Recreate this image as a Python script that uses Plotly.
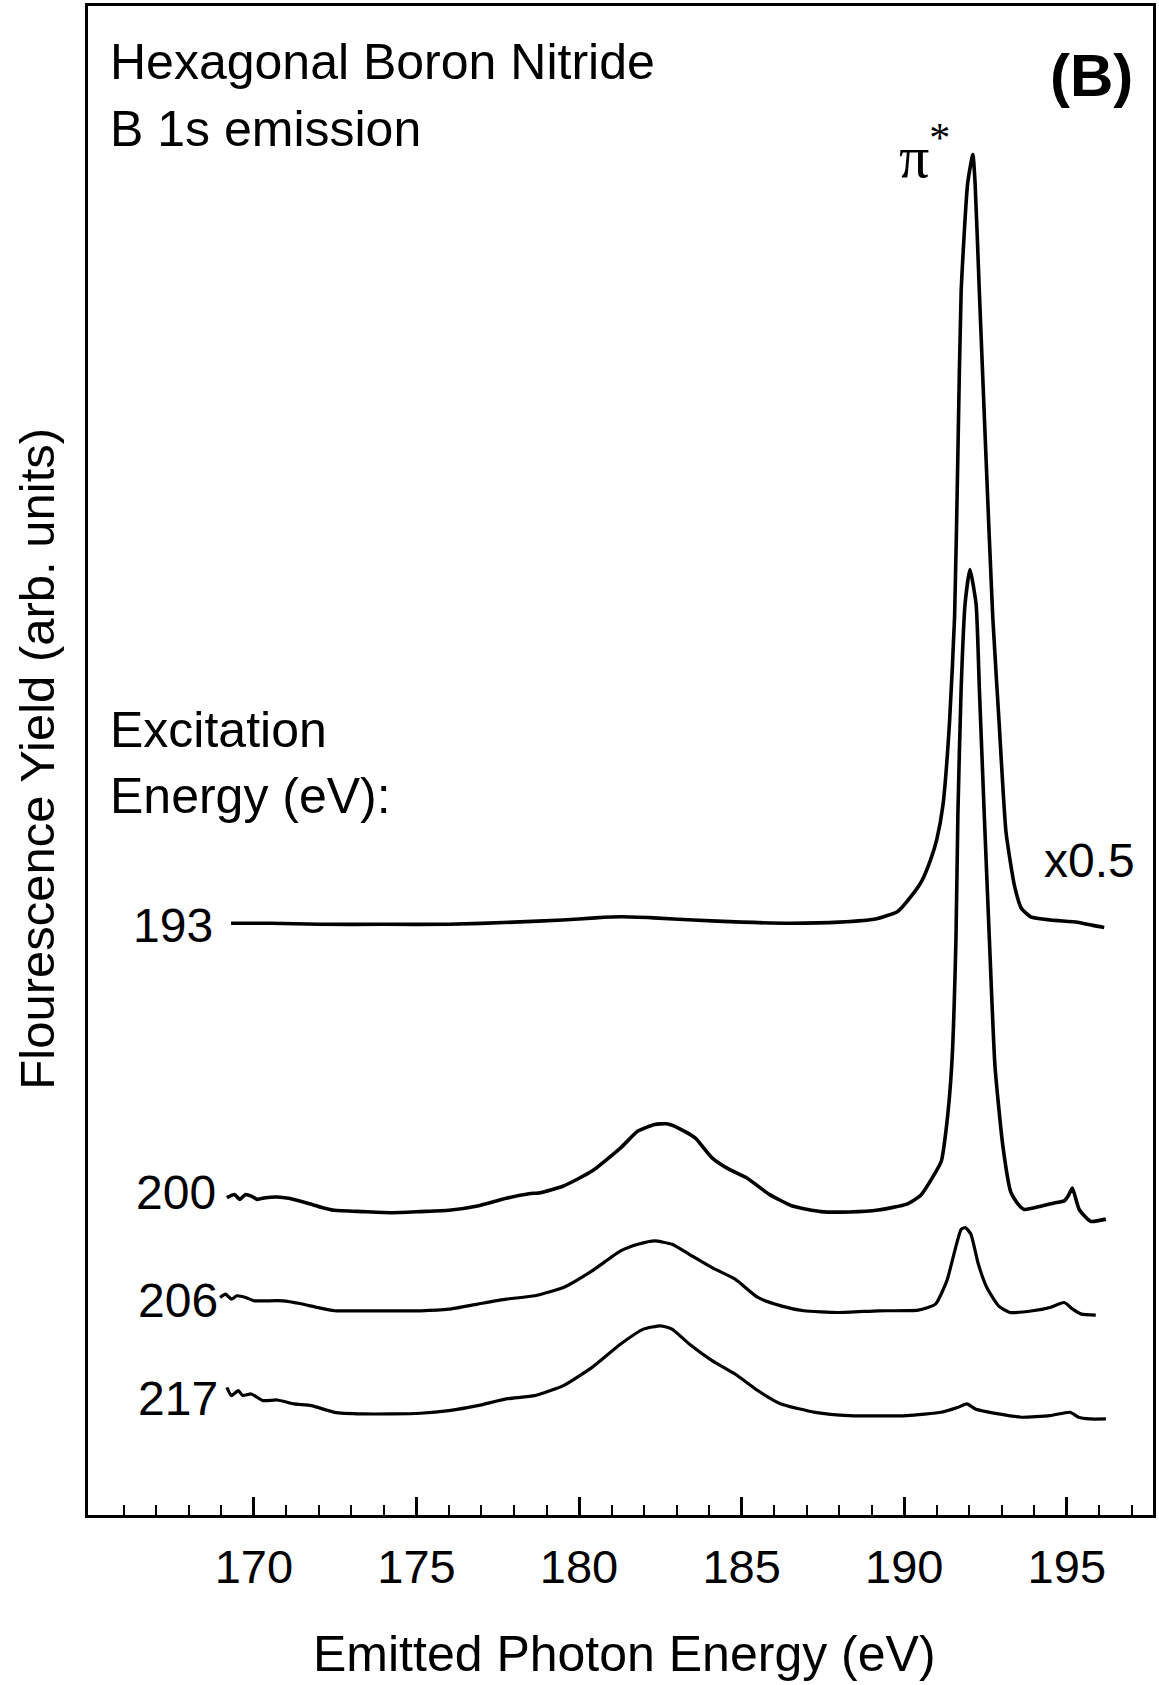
import plotly.graph_objects as go

# ---- data (emitted photon energy in eV, intensity in arbitrary units) ----
E193 = [169.3, 170.5, 172.0, 174.0, 176.0, 178.0, 179.5, 180.5, 181.3, 182.3, 183.5, 185.0,
        186.5, 188.0, 189.19, 189.8, 190.21, 190.55, 190.82, 191.0, 191.19, 191.39, 191.55,
        191.65, 191.75, 191.95, 192.11, 192.18, 192.31, 192.51, 192.72, 192.92, 193.13,
        193.39, 193.6, 193.89, 194.5, 195.33, 195.8, 196.15]
Y193 = [552, 552, 551, 551, 551, 553, 555, 557, 558, 557, 555, 553,
        552, 553, 556.5, 563, 577, 592, 612, 630, 662, 738, 839,
        990, 1141, 1242, 1269, 1242, 1141, 990, 839, 738, 637,
        587, 566, 558, 555, 553, 550, 548]

E200 = [169.17, 169.40, 169.57, 169.75, 169.92, 170.10, 170.36, 170.72, 171.07, 171.60,
        172.12, 172.48, 173.36, 174.24, 175.12, 176.0, 176.88, 177.76, 178.46, 178.81,
        179.52, 180.40, 181.28, 181.81, 182.33, 182.69, 183.04, 183.57, 184.09, 184.62,
        185.15, 185.85, 186.56, 187.44, 188.32, 189.20, 190.08, 190.5, 190.93, 191.14,
        191.29, 191.46, 191.59, 191.65, 191.75, 191.87, 192.02, 192.21, 192.31, 192.46,
        192.62, 192.79, 193.03, 193.28, 193.5, 193.69, 194.2, 194.61, 194.92, 195.05,
        195.17, 195.38, 195.73, 196.2]
Y200 = [296, 299, 294.4, 299, 297.5, 294.4, 296, 296.6, 295.4, 291.3,
        286.7, 284.2, 283, 282, 283, 284.2, 288.2, 295.4, 299.7, 300.6,
        306.9, 320.8, 342.5, 358.1, 364.3, 364.9, 361.2, 351.8, 333.2, 322.4,
        314.6, 299.1, 288.2, 283, 282.7, 284.5, 290, 298, 318, 330,
        360, 419, 536, 654, 771, 849.5, 882, 849.5, 771, 654,
        536, 419, 345, 301, 290, 285, 288, 291, 293, 298,
        305, 285, 274, 276]

E206 = [168.96, 169.13, 169.31, 169.48, 169.75, 170.01, 170.36, 170.89, 171.42, 171.95,
        172.48, 173.36, 174.24, 175.12, 176.0, 176.88, 177.76, 178.64, 179.52, 180.40,
        181.28, 181.81, 182.33, 182.86, 183.39, 184.09, 184.80, 185.50, 186.21, 186.91,
        187.97, 189.20, 190.43, 190.96, 191.31, 191.58, 191.75, 191.88, 192.05, 192.28,
        192.54, 192.9, 193.25, 193.95, 194.48, 194.92, 195.18, 195.45, 195.89]
Y206 = [202.9, 206.0, 201.3, 204.5, 202.9, 199.8, 199.8, 199.8, 197.3, 193.6,
        190.5, 190.5, 190.5, 190.5, 192.0, 196.7, 201.3, 204.5, 212.2, 227.7,
        246.3, 252.5, 255.7, 252.5, 243.2, 230.8, 220.0, 202.9, 195.1, 190.5,
        188.9, 190.5, 191.1, 196.7, 218.4, 249.4, 266.5, 268.1, 261.9, 233.9,
        212.2, 195.1, 188.9, 190.5, 193.6, 198.2, 192.0, 187.4, 186.5]

E217 = [169.17, 169.31, 169.52, 169.66, 169.92, 170.28, 170.72, 171.24, 171.77, 172.48,
        173.36, 174.24, 175.12, 176.0, 176.88, 177.76, 178.64, 179.52, 180.40, 181.28,
        181.98, 182.51, 182.86, 183.39, 184.09, 184.80, 185.50, 186.21, 187.26, 188.32,
        190.08, 191.14, 191.66, 191.93, 192.19, 192.90, 193.6, 194.48, 195.10, 195.36,
        195.71, 196.2]
Y217 = [119.1, 111.4, 116.0, 111.4, 112.9, 106.7, 107.3, 103.6, 102.0, 95.8,
        94.3, 94.3, 94.9, 97.4, 102.0, 108.3, 111.4, 120.7, 137.7, 159.5,
        173.4, 176.5, 173.4, 159.5, 144.0, 131.5, 116.0, 103.6, 95.8, 92.7,
        92.7, 95.8, 100.5, 103.6, 98.9, 94.3, 91.2, 92.7, 95.8, 91.2,
        89.6, 89.6]

EXCITATION_LABELS = ["193", "200", "206", "217"]
TICK_VALS = [170, 175, 180, 185, 190, 195]
TICK_TEXT = ["170", "175", "180", "185", "190", "195"]
MINOR_TICKS = [v for v in range(166, 198) if v % 5 != 0]

FONT = "Liberation Sans, Arial, Helvetica, sans-serif"
SERIF = "Liberation Serif, Times New Roman, serif"
W, H = 1159, 1685
L, R, T, B = 88, 3, 3, 170
PW, PH = W - L - R, H - T - B


def px(xf):
    return (xf - L) / PW


def py(yf):
    return (H - B - yf) / PH


fig = go.Figure()
for e, y, w in [(E193, Y193, 3.6), (E200, Y200, 3.6), (E206, Y206, 3.2), (E217, Y217, 3.2)]:
    fig.add_trace(go.Scatter(x=e, y=y, mode="lines",
                             line=dict(color="black", width=w, shape="spline", smoothing=0.5),
                             showlegend=False, hoverinfo="skip"))

ann = []


def add(text, x, y, xa="left", ya="middle", size=50, family=FONT, angle=0):
    ann.append(dict(text=text, x=x, y=y, xref="paper", yref="paper", xanchor=xa, yanchor=ya,
                    showarrow=False, textangle=angle, font=dict(family=family, size=size, color="black")))


add("Hexagonal Boron Nitride", px(108), py(59))
add("B 1s emission", px(108), py(126))
add("<b>(B)</b>", px(1138), py(73), xa="right", size=60)
add("π<sup>*</sup>", px(899), py(150), size=60, family=SERIF)
add("Excitation", px(108), py(728))
add("Energy (eV):", px(108), py(795))
add("x0.5", px(1045), py(859), size=48)
label_y = [924, 1192, 1300, 1398]
label_x = [215, 218, 220, 220]
for t, xx, yy in zip(EXCITATION_LABELS, label_x, label_y):
    add(t, px(xx), py(yy), xa="right", size=48)
add("Flourescence Yield (arb. units)", px(36), py(757), xa="center", size=49, angle=-90)
add("Emitted Photon Energy (eV)", px(626), py(1654), xa="center", size=50)

fig.update_layout(
    width=W, height=H, margin=dict(l=L, r=R, t=T, b=B),
    paper_bgcolor="white", plot_bgcolor="white",
    annotations=ann,
    xaxis=dict(range=[164.9, 197.65], tickmode="array", tickvals=TICK_VALS, ticktext=TICK_TEXT,
               ticks="inside", ticklen=18, tickwidth=2.5, tickcolor="black",
               showline=True, linecolor="black", linewidth=3, mirror=True,
               showgrid=False, zeroline=False,
               tickfont=dict(family=FONT, size=47, color="black"), ticklabelstandoff=9,
               minor=dict(tickmode="array", tickvals=MINOR_TICKS, ticks="inside", ticklen=10,
                          tickwidth=2, tickcolor="black", showgrid=False)),
    yaxis=dict(range=[0, 1407.6], showticklabels=False, ticks="", showgrid=False, zeroline=False,
               showline=True, linecolor="black", linewidth=3, mirror=True),
)

fig.write_html("out.html", config={"displayModeBar": False},
               post_script="document.body.style.margin='0';")
